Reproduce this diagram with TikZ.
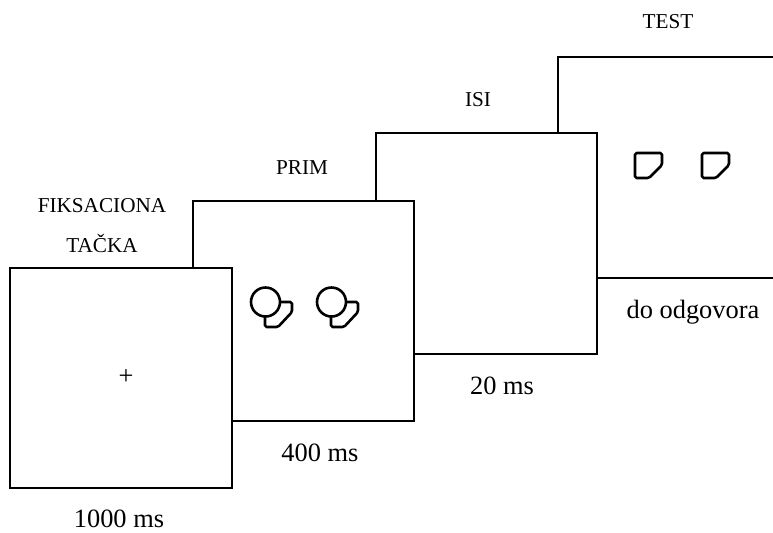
\documentclass[tikz,border=0pt]{standalone}
\usepackage{fontspec}
\setmainfont{Liberation Serif}
\begin{document}
\begin{tikzpicture}[x=0.5pt, y=-0.5pt,
  screen/.style={draw, fill=white, line width=0.8pt},
  figline/.style={line width=1.3pt, line join=round, rounded corners=0.8pt},
  durlabel/.style={font=\fontsize{13.2}{15}\selectfont},
  steplabel/.style={font=\fontsize{10.6}{20}\selectfont, align=center}]
  % Canvas in pixel units of the original figure
  \useasboundingbox (0,0) rectangle (773,532);
  \clip (0,0) rectangle (773,532);

  % Screens, drawn from back to front
  \draw[screen] (558,57) rectangle (779,278);   % TEST
  \draw[screen] (376,133) rectangle (597,354);  % ISI
  \draw[screen] (193,201) rectangle (414,421);  % PRIM
  \draw[screen] (10,268) rectangle (232,488);   % fixation

  % Fixation cross
  \node[durlabel] (cross) at (126,377) {+};

  % Prime: circle in front of a cut square
  \foreach \dx in {0,66} {
    \begin{scope}[shift={(\dx,0)}]
      \draw[figline] (265,302) -- (292,302) -- (292,312) -- (278,327) -- (265,327) -- cycle;
      \draw[line width=1.3pt, fill=white] (265.5,302) circle (14.5);
    \end{scope}
  }

  % Test: cut squares only
  \foreach \dx in {0,67} {
    \draw[figline] (635+\dx,153) -- (662+\dx,153) -- (662+\dx,165) -- (649+\dx,178) -- (635+\dx,178) -- cycle;
  }

  % Step labels
  \node[steplabel] (fix) at (102,226) {FIKSACIONA\\TAČKA};
  \node[steplabel] (prim) at (302,168) {PRIM};
  \node[steplabel] (isi) at (478,100) {ISI};
  \node[steplabel] (test) at (668,22) {TEST};

  % Durations
  \node[durlabel] (t1) at (119,519) {1000 ms};
  \node[durlabel] (t2) at (320,453) {400 ms};
  \node[durlabel] (t3) at (502,386) {20 ms};
  \node[durlabel] (t4) at (693,312) {do odgovora};
\end{tikzpicture}
\end{document}
